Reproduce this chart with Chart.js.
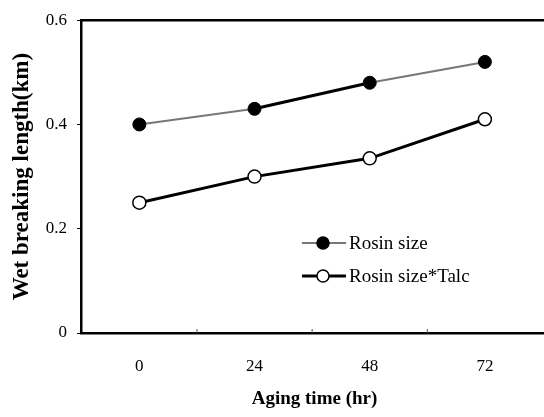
<!DOCTYPE html>
<html>
<head>
<meta charset="utf-8">
<script src="https://cdn.jsdelivr.net/npm/chart.js@4.4.1/dist/chart.umd.min.js"></script>
<style>
	html, body { margin: 0; padding: 0; background: #fff; overflow: hidden; }
	#showchart { display: block; }
</style>
</head>
<body>
<canvas id="showchart" width="556" height="417"></canvas>
<script>
// values
var agingTime = [0, 24, 48, 72];
var rosinSize = [0.40, 0.43, 0.48, 0.52];
var rosinTalc = [0.25, 0.30, 0.335, 0.41];
var xTicks = [0, 24, 48, 72];
var xMinorTicks = [12, 36, 60];
var yTicks = [0, 0.2, 0.4, 0.6];

var serif = "'Liberation Serif', 'DejaVu Serif', serif";

function toPoints(xs, ys) {
	var pts = [];
	for (var i in xs) {
		pts.push({x: xs[i], y: ys[i]});
	}
	return pts;
}

// frame top line, inward minor ticks on the x axis, legend inside the plot
var framePlugin = {
	id: 'frame',
	afterDraw: function(chart) {
		var ctx = chart.ctx;
		var a = chart.chartArea;
		var xs = chart.scales.x;
		ctx.save();
		ctx.strokeStyle = '#000';
		ctx.lineWidth = 2.5;
		ctx.beginPath();
		ctx.moveTo(a.left, a.top);
		ctx.lineTo(a.right + 5, a.top);
		ctx.stroke();

		ctx.lineWidth = 1;
		ctx.strokeStyle = '#555';
		for (var i in xMinorTicks) {
			var px = xs.getPixelForValue(xMinorTicks[i]);
			ctx.beginPath();
			ctx.moveTo(px, a.bottom);
			ctx.lineTo(px, a.bottom - 4);
			ctx.stroke();
		}

		// legend
		var items = [
			{text: 'Rosin size', color: '#777', width: 2, fill: '#000', y: 243},
			{text: 'Rosin size*Talc', color: '#000', width: 3, fill: '#fff', y: 276}
		];
		ctx.font = "19px " + serif;
		ctx.textBaseline = 'middle';
		ctx.fillStyle = '#000';
		for (var j in items) {
			var it = items[j];
			ctx.strokeStyle = it.color;
			ctx.lineWidth = it.width;
			ctx.beginPath();
			ctx.moveTo(302, it.y);
			ctx.lineTo(346, it.y);
			ctx.stroke();
			ctx.beginPath();
			ctx.arc(323, it.y, 6, 0, Math.PI * 2);
			ctx.fillStyle = it.fill;
			ctx.fill();
			ctx.lineWidth = 1.5;
			ctx.strokeStyle = '#000';
			ctx.stroke();
			ctx.fillStyle = '#000';
			ctx.fillText(it.text, 349, it.y + 1);
		}
		ctx.restore();
	}
};

var ctx = document.getElementById('showchart');
var lineGraph = new Chart(ctx, {
	type: 'line',
	data: {
		datasets: [
			{
				label: 'Rosin size',
				data: toPoints(agingTime, rosinSize),
				borderColor: '#777',
				borderWidth: 2,
				segment: {
					borderColor: function(c) { return c.p0DataIndex === 1 ? '#000' : '#777'; },
					borderWidth: function(c) { return c.p0DataIndex === 1 ? 3 : 2; }
				},
				pointRadius: 6.5,
				pointBackgroundColor: '#000',
				pointBorderColor: '#000',
				pointBorderWidth: 1,
				tension: 0
			},
			{
				label: 'Rosin size*Talc',
				data: toPoints(agingTime, rosinTalc),
				borderColor: '#000',
				borderWidth: 3,
				pointRadius: 6.5,
				pointBackgroundColor: '#fff',
				pointBorderColor: '#000',
				pointBorderWidth: 1.5,
				tension: 0
			}
		]
	},
	options: {
		responsive: false,
		animation: false,
		devicePixelRatio: 1,
		layout: { padding: { left: 0, top: 15, right: 4, bottom: 0 } },
		plugins: {
			legend: { display: false },
			tooltip: { enabled: false }
		},
		scales: {
			x: {
				type: 'linear',
				min: -12.16,
				max: 85.15,
				afterBuildTicks: function(scale) {
					scale.ticks = xTicks.map(function(v) { return {value: v}; });
				},
				afterFit: function(scale) { scale.height = 84; },
				grid: { display: true, drawOnChartArea: false, drawTicks: false, color: 'rgba(0,0,0,0)' },
				border: { display: true, color: '#000', width: 2.5 },
				ticks: {
					color: '#000',
					padding: 23,
					maxRotation: 0,
					font: { family: serif, size: 17 }
				},
				title: {
					display: true,
					text: 'Aging time (hr)',
					color: '#000',
					padding: { top: 0, bottom: 7 },
					font: { family: serif, size: 19, weight: 'bold' }
				}
			},
			y: {
				min: 0,
				max: 0.6,
				afterBuildTicks: function(scale) {
					scale.ticks = yTicks.map(function(v) { return {value: v}; });
				},
				afterFit: function(scale) { scale.width = 81; },
				grid: { drawOnChartArea: false, drawTicks: true, tickLength: 4, color: '#000' },
				border: { display: true, color: '#000', width: 2.5 },
				ticks: {
					color: '#000',
					padding: 10,
					font: { family: serif, size: 17 },
					callback: function(v) { return v === 0 ? '0' : v.toFixed(1); }
				},
				title: {
					display: true,
					text: 'Wet breaking length(km)',
					color: '#000',
					padding: { top: 8, bottom: 0 },
					font: { family: serif, size: 23, weight: 'bold' }
				}
			}
		}
	},
	plugins: [framePlugin]
});
</script>
</body>
</html>
